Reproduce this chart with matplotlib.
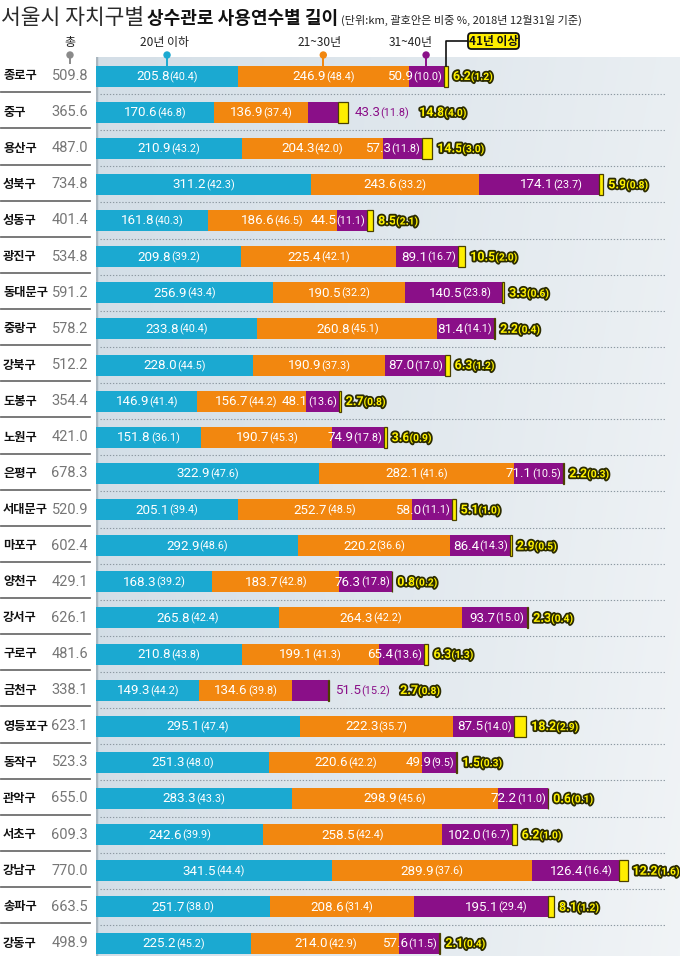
import matplotlib
matplotlib.use('Agg')
import matplotlib.pyplot as plt
import numpy as np
from matplotlib import transforms
from matplotlib import patheffects as pe
from matplotlib.patches import FancyBboxPatch, Circle

plt.rcParams['font.family'] = ['Noto Sans CJK KR', 'DejaVu Sans']

# ---------------- data ----------------
districts = ['종로구', '중구', '용산구', '성북구', '성동구', '광진구', '동대문구', '중랑구',
             '강북구', '도봉구', '노원구', '은평구', '서대문구', '마포구', '양천구', '강서구',
             '구로구', '금천구', '영등포구', '동작구', '관악구', '서초구', '강남구', '송파구', '강동구']
totals = [509.8, 365.6, 487.0, 734.8, 401.4, 534.8, 591.2, 578.2, 512.2, 354.4, 421.0, 678.3,
          520.9, 602.4, 429.1, 626.1, 481.6, 338.1, 623.1, 523.3, 655.0, 609.3, 770.0, 663.5, 498.9]
y20 = [205.8, 170.6, 210.9, 311.2, 161.8, 209.8, 256.9, 233.8, 228.0, 146.9, 151.8, 322.9,
       205.1, 292.9, 168.3, 265.8, 210.8, 149.3, 295.1, 251.3, 283.3, 242.6, 341.5, 251.7, 225.2]
p20 = [40.4, 46.8, 43.2, 42.3, 40.3, 39.2, 43.4, 40.4, 44.5, 41.4, 36.1, 47.6,
       39.4, 48.6, 39.2, 42.4, 43.8, 44.2, 47.4, 48.0, 43.3, 39.9, 44.4, 38.0, 45.2]
y30 = [246.9, 136.9, 204.3, 243.6, 186.6, 225.4, 190.5, 260.8, 190.9, 156.7, 190.7, 282.1,
       252.7, 220.2, 183.7, 264.3, 199.1, 134.6, 222.3, 220.6, 298.9, 258.5, 289.9, 208.6, 214.0]
p30 = [48.4, 37.4, 42.0, 33.2, 46.5, 42.1, 32.2, 45.1, 37.3, 44.2, 45.3, 41.6,
       48.5, 36.6, 42.8, 42.2, 41.3, 39.8, 35.7, 42.2, 45.6, 42.4, 37.6, 31.4, 42.9]
y40 = [50.9, 43.3, 57.3, 174.1, 44.5, 89.1, 140.5, 81.4, 87.0, 48.1, 74.9, 71.1,
       58.0, 86.4, 76.3, 93.7, 65.4, 51.5, 87.5, 49.9, 72.2, 102.0, 126.4, 195.1, 57.6]
p40 = [10.0, 11.8, 11.8, 23.7, 11.1, 16.7, 23.8, 14.1, 17.0, 13.6, 17.8, 10.5,
       11.1, 14.3, 17.8, 15.0, 13.6, 15.2, 14.0, 9.5, 11.0, 16.7, 16.4, 29.4, 11.5]
y41 = [6.2, 14.8, 14.5, 5.9, 8.5, 10.5, 3.3, 2.2, 6.3, 2.7, 3.6, 2.2,
       5.1, 2.9, 0.8, 2.3, 6.3, 2.7, 18.2, 1.5, 0.6, 6.2, 12.2, 8.1, 2.1]
p41 = [1.2, 4.0, 3.0, 0.8, 2.1, 2.0, 0.6, 0.4, 1.2, 0.8, 0.9, 0.3,
       1.0, 0.5, 0.2, 0.4, 1.3, 0.8, 2.9, 0.3, 0.1, 1.0, 1.6, 1.2, 0.4]
series_names = ['20년 이하', '21~30년', '31~40년', '41년 이상']
title_main = '서울시 자치구별'
title_bold = '상수관로 사용연수별 길이'
title_note = '(단위:km, 괄호안은 비중 %, 2018년 12월31일 기준)'
total_label = '총'
purple_label_outside = ['중구', '금천구']

# ---------------- style ----------------
C20, C30, C40, C41 = '#1ba9d1', '#f2870f', '#8a0f88', '#ffee00'
NUM = ['Roboto', 'DejaVu Sans']

W, H = 680, 956
fig = plt.figure(figsize=(W / 100, H / 100), dpi=100)

PANEL_L, PANEL_T = 96, 57
XMAX = 846
ROW0, ROWH = 76, 36.125
ytop = (PANEL_T - ROW0) / ROWH
ybot = (H - ROW0) / ROWH
ax = fig.add_axes([PANEL_L / W, 0, (W - PANEL_L) / W, (H - PANEL_T) / H])
bg = fig.add_axes([0, 0, 1, 1])
bg.set_xlim(0, W); bg.set_ylim(H, 0); bg.axis('off')
bg.set_zorder(5)

# gradient background
gx = np.linspace(0, 1, 200)[None, :, None]
gy = np.linspace(0, 1, 200)[:, None, None]
cl = np.array([0.83, 0.872, 0.905])
cr = np.array([0.945, 0.957, 0.966])
img = cl + (cr - cl) * (0.75 * gx + 0.25 * gy * gx)
img = np.clip(img, 0, 1)
ax.imshow(img, extent=[0, XMAX, ybot, ytop], aspect='auto', zorder=0, interpolation='bilinear')
ax.set_xlim(0, XMAX); ax.set_ylim(ybot, ytop); ax.axis('off')
ax.plot([0, 0], [ytop, ybot], color='#aab6bf', lw=2.5, zorder=1)

renderer = fig.canvas.get_renderer()


def measure(s, **kw):
    t = fig.text(0, 0, s, **kw)
    w = t.get_window_extent(renderer).width
    t.remove()
    return w


def two_part(x, y, s1, s2, ha, kw1, kw2, base, dy=-4):
    w1 = measure(s1, **kw1)
    w2 = measure(s2, **kw2)
    tot = w1 + w2
    start = {'left': 0, 'center': -tot / 2, 'right': -tot}[ha]
    ax.text(x, y, s1, transform=transforms.offset_copy(base, fig, x=start, y=dy, units='dots'),
            ha='left', va='baseline', **kw1)
    ax.text(x, y, s2, transform=transforms.offset_copy(base, fig, x=start + w1, y=dy, units='dots'),
            ha='left', va='baseline', **kw2)
    return tot


px_per_km = (W - PANEL_L) / XMAX
n = len(districts)
rows = np.arange(n)
bh = 21 / ROWH

left20 = np.zeros(n)
left30 = np.array(y20)
left40 = left30 + np.array(y30)
left41 = left40 + np.array(y40)

ax.barh(rows, y20, left=left20, height=bh, color=C20, zorder=3)
ax.barh(rows, y30, left=left30, height=bh, color=C30, zorder=3)
ax.barh(rows, y40, left=left40, height=bh, color=C40, zorder=3)
ax.barh(rows, y41, left=left41, height=bh, color=C41, edgecolor='#4a4000', lw=0.9, zorder=4)

# separators
for i in range(n - 1):
    ax.plot([6, 825], [i + 0.5, i + 0.5], color='#8d99a2', lw=0.8, ls=(0, (1.2, 1.6)), zorder=2)

wkw1 = dict(fontsize=9.6, color='white', family=NUM)
wkw2 = dict(fontsize=7.8, color='white', family=NUM)
pkw1 = dict(fontsize=9.6, color=C40, family=NUM)
pkw2 = dict(fontsize=7.8, color=C40, family=NUM)
ystroke = [pe.withStroke(linewidth=2.6, foreground='#2b2b00')]
ykw1 = dict(fontsize=9.0, color='#fff200', family=NUM, fontweight='bold', path_effects=ystroke)
ykw2 = dict(fontsize=7.4, color='#fff200', family=NUM, fontweight='bold', path_effects=ystroke)

T = ax.transData
for i in range(n):
    two_part(y20[i] / 2, i, f'{y20[i]:.1f}', f'({p20[i]:.1f})', 'center', wkw1, wkw2, T)
    s1, s2 = f'{y40[i]:.1f}', f'({p40[i]:.1f})'
    lw40 = measure(s1, **wkw1) + measure(s2, **wkw2)
    segw = y40[i] * px_per_km
    slack = segw - lw40
    end41 = left41[i] + y41[i]
    # orange label, kept clear of an overflowing purple label
    s3, s4 = f'{y30[i]:.1f}', f'({p30[i]:.1f})'
    lw30 = measure(s3, **wkw1) + measure(s4, **wkw2)
    c30_px = (left30[i] + y30[i] / 2) * px_per_km
    if districts[i] not in purple_label_outside and slack < 6:
        purple_left_px = left41[i] * px_per_km - 2 - lw40
        limit = purple_left_px - 5
        if c30_px + lw30 / 2 > limit:
            c30_px = max(left30[i] * px_per_km + lw30 / 2 + 3, limit - lw30 / 2)
    two_part(c30_px / px_per_km, i, s3, s4, 'center', wkw1, wkw2, T)

    if districts[i] in purple_label_outside:
        off = 6
        w = two_part(end41, i, s1, s2, 'left', pkw1, pkw2,
                     transforms.offset_copy(T, fig, x=off, units='dots'))
        yoff = off + w + 10
    else:
        if slack < 6:
            two_part(left41[i], i, s1, s2, 'right', wkw1, wkw2,
                     transforms.offset_copy(T, fig, x=-2, units='dots'))
        else:
            two_part(left40[i] + y40[i] / 2, i, s1, s2, 'center', wkw1, wkw2,
                     transforms.offset_copy(T, fig, x=slack * 0.2, units='dots'))
        yoff = 5
    two_part(end41, i, f'{y41[i]:.1f}', f'({p41[i]:.1f})', 'left', ykw1, ykw2,
             transforms.offset_copy(T, fig, x=yoff, units='dots'))

# left column
tn = transforms.blended_transform_factory(bg.transData, ax.transData)
for i in range(n):
    ax.text(3, i, districts[i], transform=tn, ha='left', va='center', fontsize=8.8,
            fontweight='bold', color='#111111', clip_on=False)
    ax.text(88, i, f'{totals[i]:.1f}', transform=tn, ha='right', va='center', fontsize=10.5,
            color='#767676', family=NUM, clip_on=False)
for i in range(n - 1):
    ax.plot([1, 90], [i + 0.45, i + 0.45], transform=tn, color='#6e6e6e', lw=1.3, clip_on=False)

# title
tx = 1
for s, kw in [(title_main, dict(fontsize=15.5, color='#2a2a2a')),
              (title_bold, dict(fontsize=13, fontweight='bold', color='#111111')),
              (title_note, dict(fontsize=8, color='#222222'))]:
    bg.text(tx, 24, s, ha='left', va='baseline', **kw)
    tx += measure(s, **kw) + 3

# legend
def km2px(v):
    return PANEL_L + v * px_per_km

bar_top = ROW0 - 10.5
CY = 55
bg.text(70, 42, total_label, ha='center', va='center', fontsize=8.6, color='#222222')
bg.plot([70, 70], [CY, 63], color='#8a8a8a', lw=1.4, zorder=5)
bg.add_patch(Circle((70, CY), 3.0, color='#8a8a8a', zorder=6))

centers = [y20[0] / 2, left30[0] + y30[0] / 2, left40[0] + y40[0] / 2]
cols = [C20, C30, C40]
tdx = [-3, -4, -15]
for k in range(3):
    cx = km2px(centers[k])
    bg.text(cx + tdx[k], 42, series_names[k], ha='center', va='center', fontsize=8.6, color='#222222')
    bg.plot([cx, cx], [CY, bar_top], color=cols[k], lw=1.4, zorder=5)
    bg.add_patch(Circle((cx, CY), 3.0, color=cols[k], zorder=6))

yx = km2px(left41[0] + y41[0] / 2)
bx0, bw_, by0, bhh = 468, 51, 33, 16
bg.plot([bx0, yx, yx], [by0 + bhh / 2, by0 + bhh / 2, bar_top], color='#111111', lw=1.2, zorder=5)
bg.add_patch(FancyBboxPatch((bx0, by0), bw_, bhh, boxstyle='round,pad=0,rounding_size=3.5',
                            facecolor=C41, edgecolor='#111111', lw=1.3, zorder=6))
bg.text(bx0 + bw_ / 2, by0 + bhh / 2 + 0.5, series_names[3], ha='center', va='center',
        fontsize=8.5, fontweight='bold', color='#111111', zorder=7)

fig.savefig('out.png', dpi=100)
